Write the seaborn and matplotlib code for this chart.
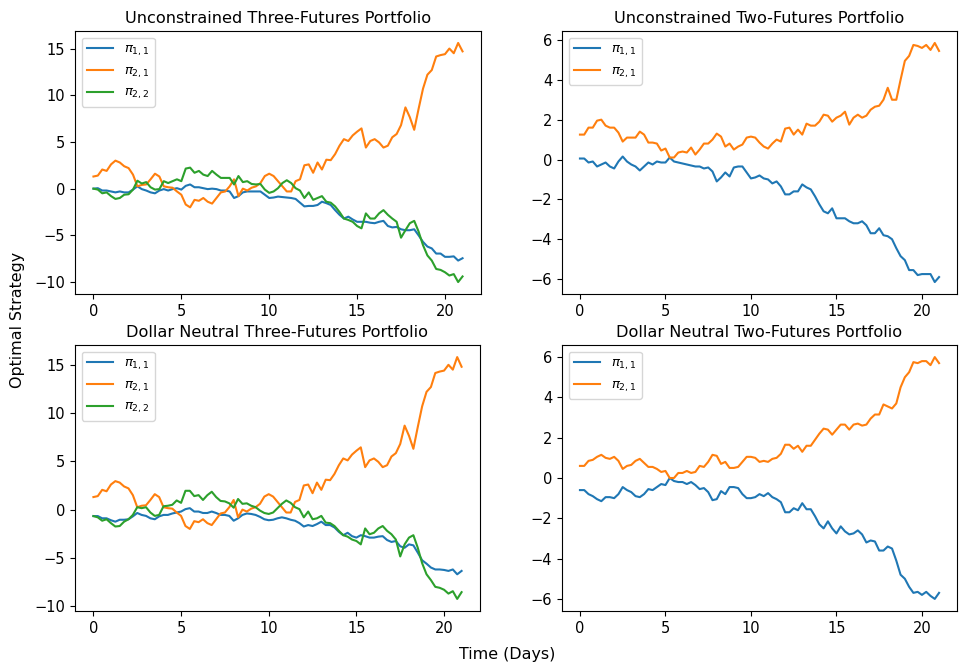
import numpy as np
import pandas as pd
import matplotlib
matplotlib.use("Agg")
import matplotlib.pyplot as plt
import seaborn as sns

# time grid (days)
days = [round(0.25 * i, 2) for i in range(85)]

# ---- Unconstrained Three-Futures Portfolio ----
uc3_pi11 = [0, 0.05, -0.2, -0.2, -0.3, -0.4, -0.3, -0.4, -0.4, -0.1, 0.25, -0.05, -0.2, -0.4, -0.5, -0.2,
            -0.05, -0.2, -0.05, 0.05, -0.1, 0.3, 0.45, 0.15, 0.15, 0.05, -0.05, 0, -0.05, -0.2, -0.2, -0.3,
            -1.0, -0.8, -0.4, -0.3, -0.3, -0.3, -0.3, -0.65, -1.0, -0.95, -0.85, -0.9, -0.95, -1.0, -1.1, -1.5,
            -1.9, -1.85, -1.85, -1.75, -1.4, -1.55, -1.75, -2.3, -2.8, -3.2, -3.0, -3.3, -3.55, -3.55, -3.55, -3.65,
            -3.7, -3.55, -3.45, -4.0, -4.15, -4.1, -4.35, -4.45, -4.45, -4.35, -5.0, -5.7, -6.2, -6.4, -6.95, -6.95,
            -7.3, -7.3, -7.25, -7.7, -7.45]
uc3_pi21 = [1.3, 1.4, 2.05, 1.9, 2.6, 3.0, 2.8, 2.4, 2.2, 1.5, 0.25, 0.4, 0.45, 1.0, 1.6, 1.3,
            0.25, 0.15, 0.1, -0.3, -0.65, -1.7, -2.0, -1.2, -1.3, -1.0, -1.4, -1.6, -1.0, -0.4, -0.3, 0.25,
            1.0, -0.8, 0.0, -0.2, 0.1, 0.25, 0.6, 1.35, 1.6, 1.35, 0.8, 0.25, -0.3, -0.3, 0.8, 1.0,
            2.5, 2.6, 1.7, 2.8, 2.05, 3.1, 3.05, 3.7, 4.6, 5.3, 5.1, 5.7, 6.1, 6.45, 4.4, 5.1,
            5.3, 4.95, 4.4, 4.6, 5.5, 5.85, 6.8, 8.7, 7.65, 6.3, 8.55, 10.7, 12.2, 12.7, 14.15, 14.3,
            14.4, 15.0, 14.5, 15.6, 14.7]
uc3_pi22 = [0, -0.1, -0.5, -0.4, -0.8, -1.1, -1.0, -0.65, -0.6, -0.1, 0.85, 0.55, 0.7, 0.15, -0.1, -0.05,
            0.8, 0.6, 0.8, 1.0, 0.8, 2.15, 2.25, 1.7, 1.9, 1.5, 1.35, 1.9, 1.5, 1.15, 1.15, 1.15,
            0.45, 1.35, 0.7, 0.8, 0.5, 0.45, 0.5, -0.1, -0.45, -0.3, 0.05, 0.6, 0.9, 0.6, 0.05, -0.2,
            -1.0, -0.4, -1.2, -1.0, -0.8, -1.4, -1.5, -1.9, -2.5, -3.2, -3.35, -3.55, -4.0, -4.25, -2.65, -3.2,
            -3.2, -2.65, -2.3, -2.8, -3.2, -3.55, -5.25, -4.45, -3.7, -3.45, -4.6, -6.05, -7.15, -7.7, -8.6, -8.7,
            -8.95, -9.3, -9.15, -10.0, -9.4]

# ---- Unconstrained Two-Futures Portfolio ----
uc2_pi11 = [0.05, 0.05, -0.15, -0.1, -0.35, -0.25, -0.15, -0.35, -0.45, -0.1, 0.15, -0.1, -0.25, -0.35, -0.55, -0.35,
            -0.15, -0.25, -0.1, -0.15, -0.15, 0.1, -0.1, -0.15, -0.2, -0.25, -0.3, -0.35, -0.35, -0.45, -0.4, -0.6,
            -1.1, -0.9, -0.65, -0.85, -0.4, -0.35, -0.35, -0.65, -0.95, -0.9, -0.8, -0.95, -1.0, -1.2, -1.1, -1.35,
            -1.75, -1.75, -1.6, -1.6, -1.25, -1.4, -1.5, -1.85, -2.25, -2.6, -2.7, -2.45, -2.95, -2.95, -2.95, -3.1,
            -3.2, -3.2, -3.1, -3.3, -3.7, -3.7, -3.45, -3.8, -3.85, -4.0, -4.45, -4.85, -5.05, -5.55, -5.55, -5.8,
            -5.75, -5.75, -5.75, -6.15, -5.9]
uc2_pi21 = [1.25, 1.25, 1.6, 1.6, 1.95, 2.0, 1.7, 1.6, 1.6, 1.35, 0.9, 1.1, 1.1, 1.1, 1.4, 1.25,
            0.85, 0.85, 0.8, 0.45, 0.55, 0.1, 0.1, 0.35, 0.4, 0.35, 0.6, 0.25, 0.5, 0.8, 0.8, 1.0,
            1.3, 1.15, 0.65, 0.8, 0.5, 0.65, 0.75, 1.1, 1.15, 1.1, 0.85, 0.65, 0.55, 0.8, 1.0, 0.9,
            1.55, 1.6, 1.25, 1.5, 1.25, 1.8, 1.7, 1.7, 1.9, 2.25, 2.2, 1.9, 2.1, 2.2, 2.4, 1.75,
            2.1, 2.25, 2.1, 2.2, 2.5, 2.65, 2.7, 3.0, 3.6, 3.0, 3.0, 4.0, 4.95, 5.2, 5.75, 5.7,
            5.6, 5.75, 5.5, 5.85, 5.45]

# ---- Dollar Neutral Three-Futures Portfolio ----
dn3_pi11 = [-0.67, -0.67, -0.9, -0.9, -1.1, -1.25, -1.05, -1.05, -1.0, -0.7, -0.35, -0.55, -0.65, -0.9, -1.0, -0.7,
            -0.55, -0.55, -0.4, -0.3, -0.2, 0.05, 0.15, -0.2, -0.2, -0.35, -0.35, -0.2, -0.35, -0.55, -0.55, -0.65,
            -1.15, -0.9, -0.55, -0.4, -0.45, -0.55, -0.75, -1.0, -1.1, -1.05, -0.9, -0.8, -0.9, -1.05, -1.15, -1.4,
            -1.75, -1.6, -1.7, -1.5, -1.25, -1.6, -1.6, -1.85, -2.3, -2.65, -2.4, -2.75, -2.9, -2.65, -2.75, -2.9,
            -2.9, -2.8, -2.75, -3.15, -3.35, -3.25, -3.8, -3.95, -3.6, -3.7, -4.45, -5.25, -5.6, -6.0, -6.2, -6.2,
            -6.25, -6.35, -6.2, -6.7, -6.35]
dn3_pi21 = [1.3, 1.4, 2.05, 1.9, 2.6, 2.95, 2.8, 2.4, 2.2, 1.5, 0.25, 0.4, 0.45, 1.0, 1.6, 1.3,
            0.25, 0.15, 0.1, -0.3, -0.65, -1.7, -2.0, -1.2, -1.3, -1.0, -1.4, -1.6, -1.0, -0.4, -0.3, 0.25,
            1.0, -0.8, 0.0, -0.2, 0.1, 0.25, 0.6, 1.35, 1.6, 1.35, 0.8, 0.25, -0.3, -0.3, 0.8, 1.0,
            2.5, 2.6, 1.7, 2.8, 2.05, 3.1, 3.05, 3.7, 4.6, 5.3, 5.1, 5.7, 6.1, 6.45, 4.4, 5.1,
            5.3, 4.95, 4.4, 4.6, 5.5, 5.85, 6.8, 8.7, 7.65, 6.3, 8.55, 10.7, 12.2, 12.7, 14.15, 14.3,
            14.4, 15.0, 14.5, 15.8, 14.8]
dn3_pi22 = [-0.67, -0.8, -1.15, -1.0, -1.4, -1.75, -1.7, -1.25, -1.0, -0.55, 0.25, 0.15, 0.25, -0.3, -0.65, -0.55,
            0.35, 0.4, 0.5, 0.95, 0.7, 1.95, 1.95, 1.4, 1.5, 1.0, 1.5, 1.85, 1.3, 0.9, 0.85, 0.65,
            0.2, 1.1, 0.6, 0.65, 0.4, 0.25, -0.1, -0.35, -0.45, -0.3, 0.15, 0.6, 0.95, 0.7, 0.25, 0.05,
            -0.8, -0.2, -1.0, -0.9, -0.65, -1.35, -1.4, -1.7, -2.2, -2.65, -2.8, -3.1, -3.25, -3.6, -1.95, -2.55,
            -2.4, -1.95, -1.7, -2.2, -2.55, -3.1, -4.85, -3.6, -2.9, -2.65, -3.95, -5.55, -6.7, -7.3, -8.0, -8.1,
            -8.3, -8.7, -8.45, -9.25, -8.55]

# ---- Dollar Neutral Two-Futures Portfolio ----
dn2_pi11 = [-0.6, -0.6, -0.8, -0.9, -1.05, -1.15, -0.95, -0.95, -1.0, -0.8, -0.45, -0.6, -0.7, -0.9, -0.95, -0.8,
            -0.55, -0.6, -0.45, -0.3, -0.35, 0.0, -0.15, -0.2, -0.2, -0.3, -0.2, -0.35, -0.55, -0.5, -0.7, -1.1,
            -1.05, -0.65, -0.8, -0.45, -0.45, -0.5, -0.8, -1.0, -1.0, -0.95, -0.8, -0.9, -0.75, -0.95, -1.05, -1.2,
            -1.7, -1.7, -1.5, -1.6, -1.25, -1.55, -1.55, -1.9, -2.3, -2.5, -2.15, -2.5, -2.75, -2.4, -2.65, -2.8,
            -2.75, -2.6, -2.8, -3.2, -3.1, -3.15, -3.6, -3.6, -3.4, -3.5, -4.1, -4.8, -5.0, -5.4, -5.7, -5.65,
            -5.8, -5.65, -5.85, -6.0, -5.7]
dn2_pi21 = [0.6, 0.6, 0.85, 0.9, 1.05, 1.15, 1.0, 0.95, 1.05, 0.85, 0.45, 0.6, 0.65, 0.85, 0.95, 0.75,
            0.55, 0.55, 0.45, 0.3, 0.35, 0.0, 0.0, 0.25, 0.25, 0.35, 0.25, 0.3, 0.6, 0.55, 0.8, 1.15,
            1.1, 0.7, 0.8, 0.5, 0.5, 0.55, 0.8, 1.05, 1.05, 1.0, 0.8, 0.85, 0.8, 0.95, 1.0, 1.2,
            1.65, 1.65, 1.45, 1.6, 1.3, 1.6, 1.6, 1.9, 2.2, 2.45, 2.4, 2.15, 2.4, 2.65, 2.65, 2.4,
            2.65, 2.7, 2.6, 2.65, 2.95, 3.15, 3.15, 3.65, 3.55, 3.45, 3.7, 4.5, 5.0, 5.25, 5.75, 5.7,
            5.8, 5.8, 5.6, 6.0, 5.7]

titles = ["Unconstrained Three-Futures Portfolio", "Unconstrained Two-Futures Portfolio",
          "Dollar Neutral Three-Futures Portfolio", "Dollar Neutral Two-Futures Portfolio"]
labels = [r"$\pi_{1,1}$", r"$\pi_{2,1}$", r"$\pi_{2,2}$"]
colors = ["#1f77b4", "#ff7f0e", "#2ca02c"]

panels = [
    [uc3_pi11, uc3_pi21, uc3_pi22],
    [uc2_pi11, uc2_pi21],
    [dn3_pi11, dn3_pi21, dn3_pi22],
    [dn2_pi11, dn2_pi21],
]

W, H = 959, 669
fig = plt.figure(figsize=(W / 100, H / 100), dpi=100)
# pixel boxes: left, top, right, bottom
boxes = [(75, 31, 481, 294), (562, 31, 957, 294), (75, 345, 480, 611), (562, 345, 957, 611)]

for box, title, series in zip(boxes, titles, panels):
    l, t, r, b = box
    ax = fig.add_axes([l / W, 1 - b / H, (r - l) / W, (b - t) / H])
    for vals, lab, col in zip(series, labels, colors):
        df = pd.DataFrame({"day": days, "val": vals})
        sns.lineplot(data=df, x="day", y="val", ax=ax, color=col, label=lab, linewidth=1.5)
    ax.set_title(title, fontsize=11.6)
    ax.set_xlabel("")
    ax.set_ylabel("")
    ax.set_xticks([0, 5, 10, 15, 20])
    ax.tick_params(labelsize=10.5)
    ax.legend(loc="upper left", fontsize=9.5, framealpha=0.8)

fig.text(507 / W, 1 - 655 / H, "Time (Days)", ha="center", va="center", fontsize=11.4)
fig.text(18 / W, 1 - 320 / H, "Optimal Strategy", ha="center", va="center", rotation=90, fontsize=11.4)

fig.savefig("out.png", dpi=100)
